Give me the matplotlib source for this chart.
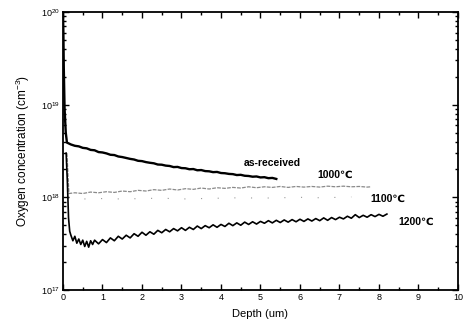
import matplotlib
matplotlib.use("Agg")
import matplotlib.pyplot as plt
from matplotlib.ticker import MultipleLocator, LogLocator, FixedLocator

plt.rcParams['font.family'] = ['Liberation Sans', 'DejaVu Sans']
plt.rcParams['mathtext.fontset'] = 'custom'
plt.rcParams['mathtext.rm'] = 'Liberation Sans'
plt.rcParams['mathtext.it'] = 'Liberation Sans'

# as-received profile (cm^-3, in units of 1e18)
asrec_depth = [0.0, 0.01, 0.02, 0.04, 0.07, 0.1, 0.2, 0.3, 0.4, 0.5, 0.6, 0.7, 0.8,
               0.9, 1.0, 1.1, 1.2, 1.3, 1.4, 1.5, 1.6, 1.7, 1.8, 1.9, 2.0, 2.1, 2.2,
               2.3, 2.4, 2.5, 2.6, 2.7, 2.8, 2.9, 3.0, 3.1, 3.2, 3.3, 3.4, 3.5, 3.6,
               3.7, 3.8, 3.9, 4.0, 4.1, 4.2, 4.3, 4.4, 4.5, 4.6, 4.7, 4.8, 4.9, 5.0,
               5.1, 5.2, 5.3, 5.4]
asrec_conc = [100, 60, 25, 9, 5, 3.9, 3.72, 3.6, 3.55, 3.42, 3.38, 3.25, 3.22,
              3.08, 3.05, 2.98, 2.88, 2.86, 2.76, 2.72, 2.66, 2.6, 2.56, 2.48, 2.46,
              2.4, 2.36, 2.33, 2.26, 2.25, 2.2, 2.18, 2.12, 2.13, 2.07, 2.06, 2.01,
              2.02, 1.96, 1.97, 1.92, 1.91, 1.87, 1.88, 1.83, 1.82, 1.79, 1.78, 1.74,
              1.75, 1.71, 1.7, 1.67, 1.68, 1.64, 1.65, 1.61, 1.62, 1.58]

# 1000 C anneal (units of 1e18)
t1000_depth = [0.1, 0.15, 0.3, 0.5, 0.7, 0.9, 1.1, 1.3, 1.5, 1.7, 1.9, 2.1, 2.3,
               2.5, 2.7, 2.9, 3.1, 3.3, 3.5, 3.7, 3.9, 4.1, 4.3, 4.5, 4.7, 4.9,
               5.1, 5.3, 5.5, 5.7, 5.9, 6.1, 6.3, 6.5, 6.7, 6.9, 7.1, 7.3, 7.5,
               7.7, 7.8]
t1000_conc = [3.0, 1.1, 1.12, 1.1, 1.14, 1.12, 1.15, 1.13, 1.17, 1.15, 1.19, 1.17,
              1.21, 1.19, 1.23, 1.2, 1.24, 1.22, 1.26, 1.23, 1.27, 1.25, 1.28, 1.26,
              1.3, 1.27, 1.3, 1.28, 1.31, 1.28, 1.31, 1.29, 1.31, 1.29, 1.32, 1.3,
              1.32, 1.3, 1.31, 1.29, 1.3]

# 1100 C anneal (units of 1e18), very faint in the original
t1100_depth = [0.12, 0.5, 1.0, 1.5, 2.0, 2.5, 3.0, 3.5, 4.0, 4.5, 5.0, 5.5, 6.0,
               6.5, 7.0, 7.3]
t1100_conc = [0.98, 0.96, 0.97, 0.96, 0.97, 0.98, 0.96, 0.97, 0.98, 0.99, 0.98,
              0.99, 1.0, 0.99, 1.0, 1.01]

# 1200 C anneal (units of 1e17)
t1200_depth = [0.08, 0.11, 0.14, 0.17, 0.2, 0.25, 0.3, 0.35, 0.4, 0.45, 0.5, 0.55,
               0.6, 0.65, 0.7, 0.75, 0.8, 0.9, 1.0, 1.1, 1.2, 1.3, 1.4, 1.5, 1.6,
               1.7, 1.8, 1.9, 2.0, 2.1, 2.2, 2.3, 2.4, 2.5, 2.6, 2.7, 2.8, 2.9, 3.0,
               3.1, 3.2, 3.3, 3.4, 3.5, 3.6, 3.7, 3.8, 3.9, 4.0, 4.1, 4.2, 4.3, 4.4,
               4.5, 4.6, 4.7, 4.8, 4.9, 5.0, 5.1, 5.2, 5.3, 5.4, 5.5, 5.6, 5.7, 5.8,
               5.9, 6.0, 6.1, 6.2, 6.3, 6.4, 6.5, 6.6, 6.7, 6.8, 6.9, 7.0, 7.1, 7.2,
               7.3, 7.4, 7.5, 7.6, 7.7, 7.8, 7.9, 8.0, 8.1, 8.2]
t1200_conc = [30, 15, 6, 4.3, 3.9, 3.4, 3.8, 3.2, 3.55, 3.1, 3.45, 2.95, 3.35, 2.9,
              3.4, 3.1, 3.45, 3.15, 3.5, 3.25, 3.65, 3.4, 3.8, 3.55, 3.9, 3.65, 4.05,
              3.8, 4.2, 3.9, 4.25, 4.0, 4.4, 4.15, 4.5, 4.25, 4.6, 4.35, 4.7,
              4.4, 4.75, 4.5, 4.9, 4.6, 4.95, 4.7, 5.05, 4.75, 5.1, 4.85, 5.25, 4.95,
              5.3, 5.0, 5.4, 5.1, 5.45, 5.15, 5.5, 5.25, 5.6, 5.3, 5.65, 5.35, 5.7,
              5.4, 5.75, 5.45, 5.8, 5.5, 5.85, 5.55, 5.9, 5.6, 6.0, 5.65, 6.05, 5.75,
              6.1, 5.85, 6.25, 5.95, 6.5, 6.05, 6.4, 6.1, 6.5, 6.2, 6.55, 6.25, 6.6]

fig = plt.figure(figsize=(4.68, 3.30), dpi=100)
ax = fig.add_axes([0.1346, 0.1212, 0.844, 0.8424])

ax.plot(asrec_depth, [v * 1e18 for v in asrec_conc], color='black', lw=1.7)
ax.plot(t1000_depth, [v * 1e18 for v in t1000_conc], color='#8a8a8a', lw=0.9,
        linestyle=(0, (3, 1)))
ax.plot(t1100_depth, [v * 1e18 for v in t1100_conc], color='#9a9a9a', lw=0.8,
        linestyle=(0, (1, 14)))
ax.plot(t1200_depth, [v * 1e17 for v in t1200_conc], color='black', lw=1.2)

ax.set_yscale('log')
ax.set_xlim(0, 10)
ax.set_ylim(1e17, 1e20)

ax.xaxis.set_major_locator(MultipleLocator(1))
ax.xaxis.set_minor_locator(MultipleLocator(0.5))
ax.yaxis.set_major_locator(FixedLocator([1e17, 1e18, 1e19, 1e20]))
ax.yaxis.set_minor_locator(LogLocator(base=10, subs=range(2, 10)))
ax.set_yticklabels(['10$^{17}$', '10$^{18}$', '10$^{19}$', '10$^{20}$'],
                   fontsize=6.5)
ax.tick_params(which='both', direction='in', top=True, right=True, width=1.0)
ax.tick_params(which='major', length=4, labelsize=6.5, pad=2)
ax.tick_params(which='minor', length=2)
for s in ax.spines.values():
    s.set_linewidth(1.3)

ax.set_xlabel('Depth (um)', fontsize=8, labelpad=5)
ax.set_ylabel('Oxygen concentration (cm$^{-3}$)', fontsize=8.5, labelpad=7)

ax.text(5.29, 2.34e18, 'as-received', fontsize=7.5, fontweight='bold',
        ha='center', va='center')
ax.text(6.89, 1.74e18, '1000℃', fontsize=7.5, fontweight='bold',
        ha='center', va='center')
ax.text(8.23, 9.6e17, '1100℃', fontsize=7.5, fontweight='bold',
        ha='center', va='center')
ax.text(8.94, 5.5e17, '1200℃', fontsize=7.5, fontweight='bold',
        ha='center', va='center')

fig.savefig('out.png', dpi=100)
